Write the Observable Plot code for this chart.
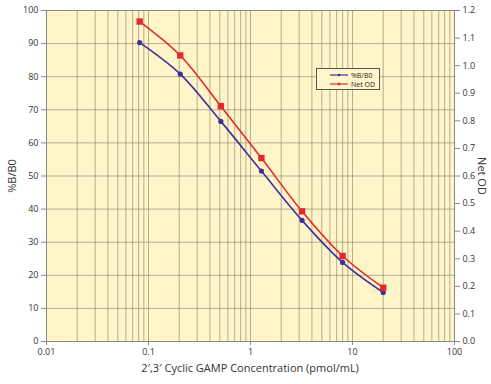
<!DOCTYPE html>
<html><head><meta charset="utf-8">
<script src="https://cdn.jsdelivr.net/npm/d3@7"></script>
<script src="https://cdn.jsdelivr.net/npm/@observablehq/plot@0.6"></script>
<style>
body{margin:0;background:#fff;font-family:"Open Sans",sans-serif}
#wrap{position:relative;width:491px;height:384px;overflow:hidden}
#legend{position:absolute;left:316px;top:68px;width:62px;height:20px;background:#fff6cb;border:1px solid #555;font:7px "Open Sans",sans-serif;color:#222}
#legend .row{position:absolute;left:0;height:8px;display:flex;align-items:center}
#legend svg{margin-left:13px;margin-right:3px}
</style>
</head><body><div id="wrap"></div>
<script>
const concentration = [0.08192, 0.2048, 0.512, 1.28, 3.2, 8, 20];
const pctBB0 = [90.3, 80.8, 66.5, 51.5, 36.6, 23.9, 14.8];
const netOD = [1.16, 1.037, 0.853, 0.665, 0.472, 0.31, 0.195];
const xTickLabels = [0.01, 0.1, 1, 10, 100];
const leftTicks = [0, 10, 20, 30, 40, 50, 60, 70, 80, 90, 100];
const rightTicks = [0, 0.1, 0.2, 0.3, 0.4, 0.5, 0.6, 0.7, 0.8, 0.9, 1.0, 1.1, 1.2];
const odMax = 1.2;
const seriesNames = ["%B/B0", "Net OD"];
const colors = ["#3f2f9c", "#e5282e"];

const gridX = [];
for (const dec of [0.01, 0.1, 1, 10]) for (let k = 1; k <= 9; k++) gridX.push(+(k * dec).toPrecision(3));
gridX.push(100);

const blue = concentration.map((c, i) => ({x: c, y: pctBB0[i]}));
const red = concentration.map((c, i) => ({x: c, y: netOD[i] / odMax * 100}));

const font = '"Open Sans", sans-serif';
const plot = Plot.plot({
  width: 491, height: 384,
  marginLeft: 46, marginRight: 37, marginTop: 10, marginBottom: 43,
  style: {fontFamily: font, fontSize: "9px", color: "#333", background: "transparent"},
  x: {type: "log", domain: [0.01, 100]},
  y: {domain: [0, 100]},
  marks: [
    Plot.frame({fill: "#fff5c8", stroke: "none"}),
    Plot.gridX(gridX, {stroke: "#857f68", strokeOpacity: 0.6, strokeWidth: 1}),
    Plot.gridY(leftTicks, {stroke: "#857f68", strokeOpacity: 0.6, strokeWidth: 1}),
    Plot.frame({stroke: "#888", strokeWidth: 1}),
    Plot.axisX(xTickLabels, {tickSize: 4, tickPadding: 3, tickFormat: d => String(d), label: null, stroke: "#888"}),
    Plot.axisY(leftTicks, {anchor: "left", tickSize: 5, tickPadding: 3, label: null, stroke: "#888"}),
    Plot.axisY(rightTicks.map(v => v / odMax * 100), {anchor: "right", tickSize: 5, tickPadding: 3, label: null, stroke: "#888",
      tickFormat: v => (v * odMax / 100).toFixed(1)}),
    Plot.line(blue, {x: "x", y: "y", stroke: colors[0], strokeWidth: 1.6, curve: "catmull-rom"}),
    Plot.dot(blue, {x: "x", y: "y", fill: colors[0], r: 2.6, symbol: "circle"}),
    Plot.line(red, {x: "x", y: "y", stroke: colors[1], strokeWidth: 1.6, curve: "catmull-rom"}),
    Plot.dot(red, {x: "x", y: "y", fill: colors[1], r: 3.6, symbol: "square"})
  ]
});
const wrap = document.getElementById("wrap");
wrap.appendChild(plot);
const svg = d3.select(plot);
svg.append("text").attr("transform", "translate(250,372)").attr("text-anchor", "middle")
  .attr("font-size", 11).attr("font-family", font).attr("fill", "#333").text("2\u2032,3\u2032 Cyclic GAMP Concentration (pmol/mL)");
svg.append("text").attr("transform", "translate(16,176) rotate(-90)").attr("text-anchor", "middle")
  .attr("font-size", 11).attr("font-family", font).attr("fill", "#333").text(seriesNames[0]);
svg.append("text").attr("transform", "translate(478,176) rotate(90)").attr("text-anchor", "middle")
  .attr("font-size", 11).attr("font-family", font).attr("fill", "#333").text(seriesNames[1]);

const leg = document.createElement("div");
leg.id = "legend";
seriesNames.forEach((name, i) => {
  const row = document.createElement("div");
  row.className = "row";
  row.style.top = (2 + i * 9) + "px";
  const mark = i === 0
    ? `<circle cx="9" cy="4" r="1.3" fill="${colors[i]}"/>`
    : `<rect x="7.8" y="2.8" width="2.4" height="2.4" fill="${colors[i]}"/>`;
  row.innerHTML = `<svg width="18" height="8"><line x1="0" x2="18" y1="4" y2="4" stroke="${colors[i]}" stroke-width="1.2"/>${mark}</svg><span>${name}</span>`;
  leg.appendChild(row);
});
wrap.appendChild(leg);
</script>
</body></html>
